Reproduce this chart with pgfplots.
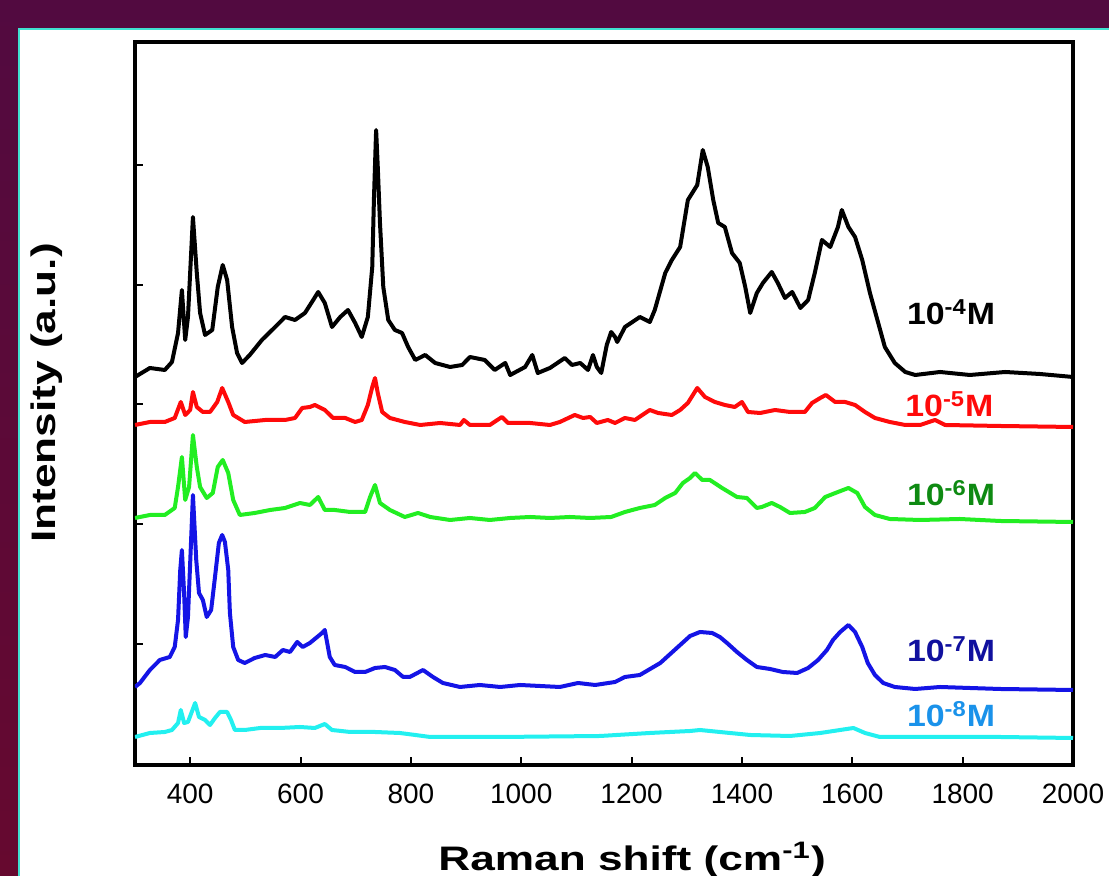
\documentclass[border=0pt]{standalone}
\usepackage{pgfplots}
\pgfplotsset{compat=1.18}
\usepackage{fontspec}
\setmainfont{Liberation Sans}
\definecolor{bgtop}{HTML}{520A40}
\definecolor{bgbot}{HTML}{66092F}
\definecolor{panelborder}{HTML}{40E0D0}
\definecolor{cBlack}{HTML}{000000}
\definecolor{cRed}{HTML}{FF0A0A}
\definecolor{cGreen}{HTML}{22EE22}
\definecolor{cGreenLab}{HTML}{0E8A12}
\definecolor{cBlue}{HTML}{1414E6}
\definecolor{cBlueLab}{HTML}{10109E}
\definecolor{cCyan}{HTML}{22F0F0}
\definecolor{cCyanLab}{HTML}{1A92EA}
\newcommand{\lab}[2]{\fontsize{15.4}{17}\selectfont\bfseries\scalebox{1.1}[1]{10\textsuperscript{-#1}M}}
\begin{document}
\begin{tikzpicture}
\useasboundingbox (0,0) rectangle (554.5pt,438pt);
\shade[top color=bgtop, bottom color=bgbot] (0,0) rectangle (554.5pt,438pt);
\fill[white] (9pt,0) rectangle (556pt,424pt);
\draw[panelborder, line width=1pt] (9.5pt,-2pt) -- (9.5pt,423.5pt) -- (557pt,423.5pt);
\begin{axis}[
  at={(67.5pt,55.5pt)}, anchor=south west,
  scale only axis, width=469pt, height=361.5pt,
  xmin=300, xmax=2000, ymin=0, ymax=723,
  axis line style={line width=2pt},
  xtick={400,600,...,2000},
  ytick={121,241,361,480,600},
  yticklabels={},
  xtick pos=bottom, ytick pos=left,
  tick align=inside,
  major tick length=4pt,
  tick style={line width=1pt, black},
  /pgf/number format/assume math mode=true,
  /pgf/number format/set thousands separator={},
  xticklabel style={font=\fontsize{14}{16}\selectfont, yshift=-6pt},
  xlabel={\scalebox{1.3}[1]{\bfseries\fontsize{17}{20}\selectfont Raman shift (cm\textsuperscript{-1})}},
  xlabel style={at={(axis description cs:0.530,-0.131)}, anchor=center},
  ylabel={\scalebox{1.3}[1]{\bfseries\fontsize{17}{20}\selectfont Intensity (a.u.)}},
  ylabel style={at={(axis description cs:-0.094,0.5145)}, anchor=center},
  every axis plot/.append style={line width=2pt, line join=round},
  clip=true,
]
% 10^-4 M
\addplot[cBlack] coordinates {
(300,388)(327,397)(354,395)(367,403)(378,432)(385,475)(391,425)(396,448)(405,548)(412,492)
(418,452)(427,430)(440,435)(450,478)(459,500)(467,485)(476,438)(485,412)(494,402)(508,410)
(530,425)(554,438)(572,448)(590,445)(608,452)(623,465)(632,473)(644,462)(657,438)(672,448)
(686,455)(699,442)(711,428)(722,448)(730,498)(733,565)(737,635)(740,598)(744,542)(750,478)
(759,445)(771,435)(784,432)(795,418)(808,405)(826,410)(844,402)(871,398)(893,400)(907,408)
(934,405)(952,395)(971,402)(980,390)(1007,398)(1020,410)(1030,392)(1052,397)(1079,407)(1092,400)
(1107,402)(1121,395)(1130,410)(1137,398)(1145,392)(1155,420)(1163,433)(1170,428)(1174,423)(1188,438)
(1215,448)(1233,443)(1242,455)(1261,492)(1273,505)(1288,518)(1302,565)(1319,580)(1329,615)(1338,598)
(1348,565)(1357,542)(1369,538)(1382,512)(1396,502)(1406,478)(1415,452)(1427,472)(1438,482)(1454,493)
(1465,482)(1478,467)(1491,473)(1506,457)(1520,465)(1532,492)(1545,525)(1560,518)(1574,538)(1581,555)
(1593,538)(1605,528)(1618,505)(1632,472)(1647,442)(1659,418)(1677,402)(1696,393)(1714,390)(1759,393)
(1813,390)(1877,393)(1940,391)(2000,388)
};
% 10^-5 M
\addplot[cRed] coordinates {
(300,340)(327,343)(354,343)(372,347)(383,363)(391,350)(400,355)(405,373)(412,358)(423,353)
(436,353)(449,363)(458,377)(469,363)(478,350)(499,343)(536,345)(572,345)(590,347)(603,357)
(617,358)(626,360)(644,355)(659,347)(681,347)(699,343)(711,345)(722,360)(730,378)(735,387)
(740,372)(748,353)(762,347)(789,343)(817,340)(853,342)(889,340)(896,345)(907,340)(943,340)
(965,348)(976,342)(1016,342)(1052,340)(1070,343)(1097,350)(1112,347)(1125,348)(1137,342)(1157,345)
(1170,342)(1188,347)(1206,345)(1233,355)(1248,352)(1273,350)(1288,355)(1302,362)(1319,377)(1333,368)
(1351,363)(1369,360)(1387,358)(1400,363)(1411,353)(1433,352)(1460,355)(1487,353)(1514,353)(1527,362)
(1542,367)(1552,370)(1569,363)(1587,363)(1605,360)(1623,353)(1641,347)(1668,343)(1696,340)(1723,340)
(1750,345)(1768,340)(1868,339)(2000,338)
};
% 10^-6 M
\addplot[cGreen] coordinates {
(300,247)(327,250)(354,250)(372,257)(378,278)(385,308)(391,265)(398,278)(405,330)(412,298)
(418,278)(430,267)(441,272)(450,298)(459,305)(469,292)(478,265)(490,250)(517,252)(545,255)
(572,257)(599,262)(617,260)(632,268)(644,255)(662,255)(690,253)(717,253)(726,268)(735,280)
(744,262)(762,255)(789,248)(813,252)(835,248)(871,245)(907,247)(943,245)(980,247)(1016,248)
(1052,247)(1088,248)(1125,247)(1163,248)(1188,253)(1215,257)(1242,260)(1261,267)(1279,272)(1293,282)
(1306,287)(1315,292)(1328,285)(1342,285)(1364,277)(1391,268)(1409,267)(1427,257)(1436,258)(1454,262)
(1469,258)(1487,252)(1514,253)(1532,257)(1551,268)(1574,273)(1593,277)(1609,272)(1623,258)(1641,250)
(1668,246)(1723,245)(1795,246)(1868,244)(2000,243)
};
% 10^-7 M
\addplot[cBlue] coordinates {
(300,78)(309,82)(327,95)(345,105)(363,108)(372,118)(378,145)(382,195)(385,215)(389,172)
(392,128)(396,148)(400,202)(405,270)(411,205)(416,172)(423,165)(430,148)(438,155)(445,188)
(452,222)(458,230)(463,223)(469,195)(472,152)(478,118)(487,105)(499,102)(517,107)(536,110)
(554,108)(568,115)(581,113)(594,123)(604,118)(617,122)(639,132)(644,135)(653,108)(662,100)
(681,98)(699,93)(717,93)(735,97)(753,98)(771,95)(786,88)(798,88)(822,95)(840,88)
(858,82)(889,78)(925,80)(962,78)(998,80)(1034,79)(1070,78)(1103,82)(1134,80)(1170,83)
(1188,88)(1215,90)(1252,102)(1288,120)(1306,129)(1324,133)(1346,132)(1360,128)(1373,122)(1391,113)
(1409,105)(1427,98)(1451,96)(1474,93)(1500,92)(1520,97)(1538,105)(1554,115)(1565,125)(1578,133)
(1593,140)(1605,133)(1618,118)(1628,102)(1641,90)(1656,82)(1677,78)(1714,76)(1759,78)(1813,77)
(1868,76)(2000,75)
};
% 10^-8 M
\addplot[cCyan] coordinates {
(300,28)(327,32)(354,33)(367,35)(378,42)(383,55)(389,42)(396,43)(409,62)(416,48)
(427,45)(436,40)(445,47)(454,53)(467,53)(474,45)(481,35)(499,35)(527,37)(563,37)
(599,38)(626,37)(644,41)(657,35)(690,33)(735,33)(780,32)(808,30)(835,28)(962,28)
(1143,29)(1233,32)(1306,34)(1324,35)(1360,33)(1415,30)(1487,29)(1542,32)(1578,35)(1602,37)
(1623,32)(1650,28)(1723,28)(1868,28)(2000,27)
};
\node[cBlack] at (axis cs:1779,453) {\lab{4}{}};
\node[cRed] at (axis cs:1776,361) {\lab{5}{}};
\node[cGreenLab] at (axis cs:1779,272) {\lab{6}{}};
\node[cBlueLab] at (axis cs:1779,116) {\lab{7}{}};
\node[cCyanLab] at (axis cs:1779,51) {\lab{8}{}};
\end{axis}
\end{tikzpicture}
\end{document}
